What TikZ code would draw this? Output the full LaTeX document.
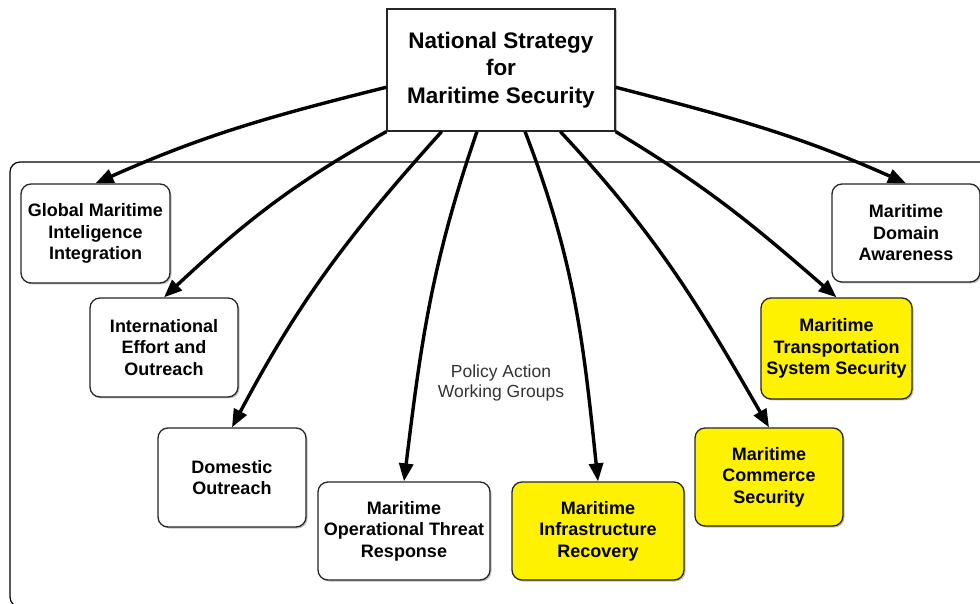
\documentclass[tikz,border=0pt]{standalone}
\usepackage{fontspec}
\setmainfont{Liberation Sans}
\usetikzlibrary{arrows.meta,calc,shadows}
\begin{document}
\begin{tikzpicture}[x=1pt,y=1pt,
  wg/.style={draw=black!85, line width=1.3pt, rounded corners=10pt, align=center,
    font=\bfseries\fontsize{18}{21.5}\selectfont, inner sep=0pt, fill=white,
    drop shadow={shadow xshift=1.5pt, shadow yshift=-1.5pt, fill=black!40, opacity=0.6}},
  hl/.style={fill=yellow},
  arr/.style={line width=3.4pt, -{Triangle[length=18pt,width=14pt]}},
  ]
\useasboundingbox (0,0) rectangle (980,603);
\clip (0,0) rectangle (980,603);
\fill[white] (0,0) rectangle (980,603);
% container
\draw[line width=1.2pt, black, rounded corners=10pt] (995,-4) -- (10,-4) -- (10,441) -- (995,441);
% top box
\node[draw=black!85, line width=1.3pt, fill=white, minimum width=228pt, minimum height=122pt, inner sep=0pt,
  align=center, font=\bfseries\fontsize{22.5}{27.5}\selectfont,
  drop shadow={shadow xshift=1.5pt, shadow yshift=-1.5pt, fill=black!40, opacity=0.6}]
  (nss) at (501,533) {National Strategy\\for\\Maritime Security};
% working groups
\node[wg, minimum width=149pt, minimum height=99pt] (glob) at (95.5,369.5) {Global Maritime\\Inteligence\\Integration};
\node[wg, minimum width=148pt, minimum height=99pt] (intl) at (164,255.5) {International\\Effort and\\Outreach};
\node[wg, minimum width=148pt, minimum height=99pt] (dom) at (232,125.5) {Domestic\\Outreach};
\node[wg, minimum width=172pt, minimum height=98pt] (oper) at (404,72) {Maritime\\Operational Threat\\Response};
\node[wg, hl, minimum width=172pt, minimum height=98pt] (infra) at (598,72) {Maritime\\Infrastructure\\Recovery};
\node[wg, hl, minimum width=148pt, minimum height=98pt] (comm) at (769,126) {Maritime\\Commerce\\Security};
\node[wg, hl, minimum width=151pt, minimum height=101pt] (trans) at (836.5,254.5) {Maritime\\Transportation\\System Security};
\node[wg, minimum width=148pt, minimum height=98pt] (mda) at (906,370) {Maritime\\Domain\\Awareness};
\node[align=center, text=black!80, font=\fontsize{17.5}{20.5}\selectfont] (pawg) at (501,220) {Policy Action\\Working Groups};
% start points on the top box
\coordinate (sL) at ($(nss.north west)!0.64!(nss.south west)$);
\coordinate (sR) at ($(nss.north east)!0.64!(nss.south east)$);
\coordinate (s1) at ($(nss.south west)!0.241!(nss.south east)$);
\coordinate (s2) at ($(nss.south west)!0.395!(nss.south east)$);
\coordinate (s3) at ($(nss.south west)!0.605!(nss.south east)$);
\coordinate (s4) at ($(nss.south west)!0.759!(nss.south east)$);
% arrows
\draw[arr] (sL) to[out=194,in=24] (glob.north);
\draw[arr] (nss.south west) to[out=209,in=43] (intl.north);
\draw[arr] (s1) to[out=228,in=62] (dom.north);
\draw[arr] (s2) to[out=251,in=83] (oper.north);
\draw[arr] (s3) to[out=291,in=96] (infra.north);
\draw[arr] (s4) to[out=313,in=120] (comm.north);
\draw[arr] (nss.south east) to[out=329,in=139] (trans.north);
\draw[arr] (sR) to[out=345.5,in=156] (mda.north);
\end{tikzpicture}
\end{document}
